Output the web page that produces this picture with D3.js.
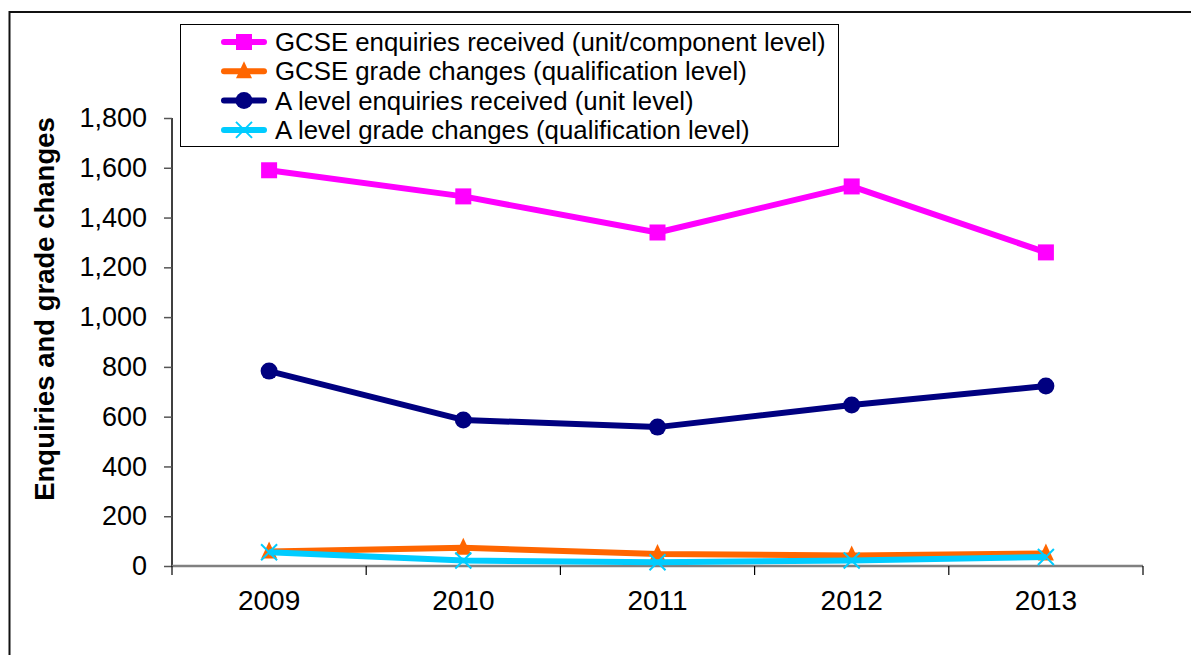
<!DOCTYPE html>
<html>
<head>
	<meta charset="utf-8">
	<title>Enquiries and grade changes</title>
	<style>
	body { margin: 0; background: #fff; }
	svg text { font-family: "Liberation Sans", Arial, sans-serif; }
	</style>
	<script type="text/javascript" src="https://cdn.jsdelivr.net/npm/d3@7/dist/d3.min.js"></script>
</head>
<body>
	<script type="text/javascript">

		// Data Set
		let years = ['2009', '2010', '2011', '2012', '2013'];
		let gcseEnquiries = [1590, 1485, 1340, 1525, 1260];
		let gcseChanges = [58, 73, 48, 42, 50];
		let aLevelEnquiries = [783, 587, 558, 647, 723];
		let aLevelChanges = [55, 22, 15, 22, 36];
		let yTicks = [0, 200, 400, 600, 800, 1000, 1200, 1400, 1600, 1800];
		let seriesNames = ['GCSE enquiries received (unit/component level)', 'GCSE grade changes (qualification level)', 'A level enquiries received (unit level)', 'A level grade changes (qualification level)'];

		let W = 1191, H = 655;
		let svg = d3.select('body').append('svg')
					.attr('width', W).attr('height', H);

		// outer frame
		svg.append('rect')
			.attr('x', 9.5).attr('y', 12)
			.attr('width', W + 20).attr('height', H + 20)
			.attr('fill', 'none').attr('stroke', '#111').attr('stroke-width', 2);

		let plotL = 172, plotR = 1143, plotT = 118, plotB = 566;

		let xScale = d3.scaleBand().domain(years).range([plotL, plotR]);
		let yScale = d3.scaleLinear().domain([0, 1800]).range([plotB, plotT]);

		// Y axis
		let yAxis = svg.append('g')
			.attr('transform', 'translate(' + plotL + ',0)')
			.call(d3.axisLeft(yScale).tickValues(yTicks).tickSize(8).tickPadding(17)
				.tickFormat(d3.format(',')));
		yAxis.select('.domain').attr('stroke', '#000').attr('stroke-width', 1.5).attr('d', 'M0,' + plotT + 'V' + plotB);
		yAxis.selectAll('line').attr('stroke', '#555').attr('stroke-width', 1.5);
		yAxis.selectAll('text').attr('font-size', 27).attr('fill', '#000');

		// X axis
		let xAxis = svg.append('g')
			.attr('transform', 'translate(0,' + plotB + ')')
			.call(d3.axisBottom(xScale).tickSize(0));
		xAxis.select('.domain').remove();
		xAxis.selectAll('text').attr('font-size', 28).attr('fill', '#000')
			.attr('y', 44).attr('dy', 0);
		svg.append('line')
			.attr('x1', plotL).attr('x2', plotR)
			.attr('y1', plotB).attr('y2', plotB)
			.attr('stroke', '#808080').attr('stroke-width', 2.5);
		// category boundary ticks
		svg.selectAll('line.xtick').data(years.concat(['end'])).enter().append('line')
			.attr('class', 'xtick')
			.attr('x1', function(d, i) { return plotL + i * xScale.step(); })
			.attr('x2', function(d, i) { return plotL + i * xScale.step(); })
			.attr('y1', plotB).attr('y2', plotB + 9)
			.attr('stroke', '#000').attr('stroke-width', 1.2);

		// Y title
		svg.append('text')
			.attr('transform', 'translate(54,' + ((plotT + plotB) / 2 - 33) + ') rotate(-90)')
			.attr('text-anchor', 'middle')
			.attr('font-size', 27.5).attr('font-weight', 'bold')
			.text('Enquiries and grade changes');

		// 折線
		let series = [
			{ name: seriesNames[0], values: gcseEnquiries, color: '#FF00FF', marker: 'square' },
			{ name: seriesNames[1], values: gcseChanges, color: '#FF6600', marker: 'triangle' },
			{ name: seriesNames[2], values: aLevelEnquiries, color: '#000080', marker: 'circle' },
			{ name: seriesNames[3], values: aLevelChanges, color: '#00CCFF', marker: 'cross' }
		];

		let cx = function(i) { return xScale(years[i]) + xScale.bandwidth() / 2; };
		let line = d3.line()
			.x(function(d, i) { return cx(i); })
			.y(function(d) { return yScale(d); });

		function drawMarker(g, type, color) {
			if (type === 'square') {
				g.append('rect').attr('x', -8).attr('y', -8).attr('width', 16).attr('height', 16).attr('fill', color);
			} else if (type === 'triangle') {
				g.append('path').attr('d', 'M0,-10L8,7L-8,7Z').attr('fill', color);
			} else if (type === 'circle') {
				g.append('circle').attr('r', 8.5).attr('fill', color);
			} else {
				g.append('path').attr('d', 'M-8,-8L8,8M-8,8L8,-8').attr('stroke', color).attr('stroke-width', 2).attr('fill', 'none');
			}
		}

		series.forEach(function(s) {
			svg.append('path')
				.datum(s.values)
				.attr('d', line)
				.attr('fill', 'none')
				.attr('stroke', s.color)
				.attr('stroke-width', 6)
				.attr('stroke-linejoin', 'round');
			s.values.forEach(function(v, i) {
				let g = svg.append('g').attr('transform', 'translate(' + cx(i) + ',' + yScale(v) + ')');
				drawMarker(g, s.marker, s.color);
			});
		});

		// Legend
		let legend = svg.append('g');
		legend.append('rect')
			.attr('x', 180.5).attr('y', 24.5).attr('width', 658).attr('height', 122)
			.attr('fill', '#fff').attr('stroke', '#000').attr('stroke-width', 1);
		series.forEach(function(s, i) {
			let ly = 42 + i * 29.3;
			legend.append('line')
				.attr('x1', 224).attr('x2', 264).attr('y1', ly).attr('y2', ly)
				.attr('stroke', s.color).attr('stroke-width', 6).attr('stroke-linecap', 'round');
			let g = legend.append('g').attr('transform', 'translate(244,' + ly + ')');
			drawMarker(g, s.marker, s.color);
			legend.append('text')
				.attr('x', 275).attr('y', ly + 9)
				.attr('font-size', 25.8)
				.text(s.name);
		});

	</script>
</body>
</html>
